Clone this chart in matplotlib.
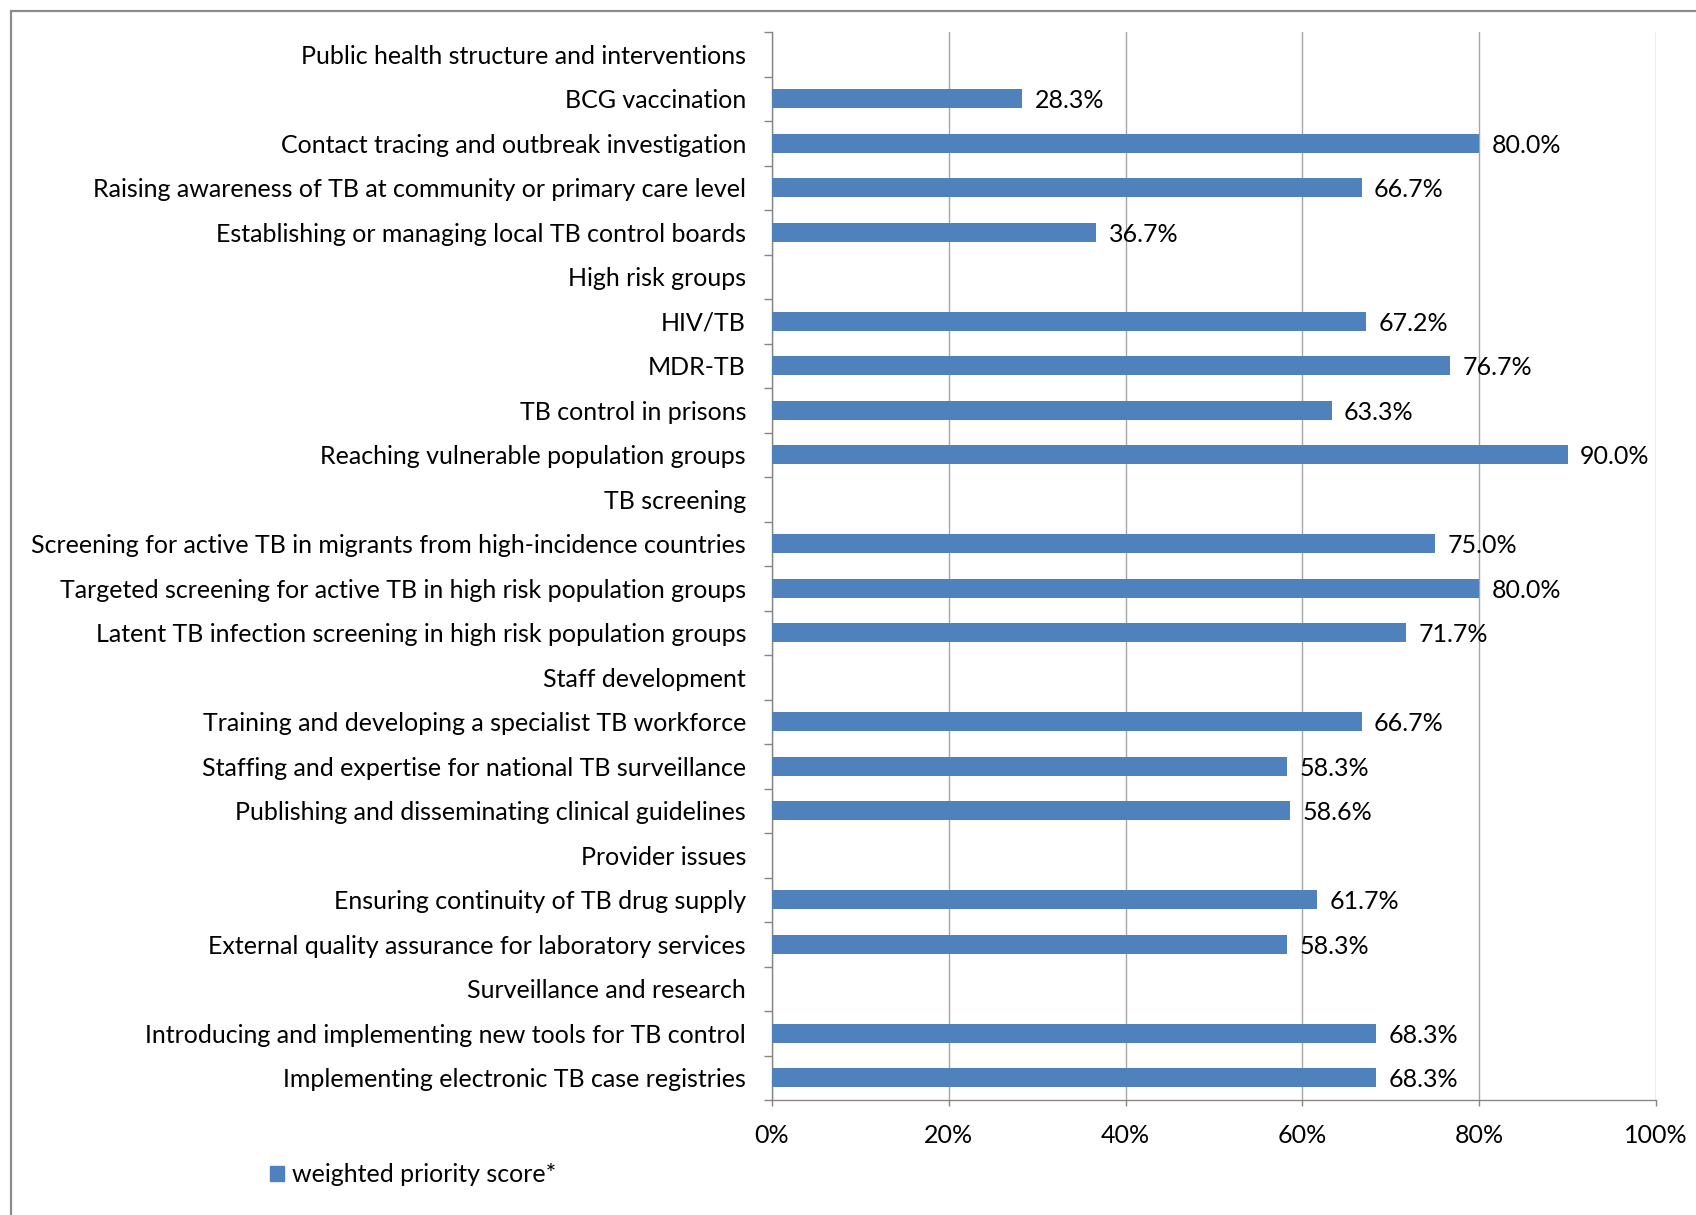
import matplotlib
matplotlib.use("Agg")
import matplotlib.pyplot as plt
from matplotlib.patches import Rectangle

categories = [
    "Public health structure and interventions",
    "BCG vaccination",
    "Contact tracing and outbreak investigation",
    "Raising awareness of TB at community or primary care level",
    "Establishing or managing local TB control boards",
    "High risk groups",
    "HIV/TB",
    "MDR-TB",
    "TB control in prisons",
    "Reaching vulnerable population groups",
    "TB screening",
    "Screening for active TB in migrants from high-incidence countries",
    "Targeted screening for active TB in high risk population groups",
    "Latent TB infection screening in high risk population groups",
    "Staff development",
    "Training and developing a specialist TB workforce",
    "Staffing and expertise for national TB surveillance",
    "Publishing and disseminating clinical guidelines",
    "Provider issues",
    "Ensuring continuity of TB drug supply",
    "External quality assurance for laboratory services",
    "Surveillance and research",
    "Introducing and implementing new tools for TB control",
    "Implementing electronic TB case registries",
]
# None = section header (no bar)
scores = [None, 28.3, 80.0, 66.7, 36.7,
          None, 67.2, 76.7, 63.3, 90.0,
          None, 75.0, 80.0, 71.7,
          None, 66.7, 58.3, 58.6,
          None, 61.7, 58.3,
          None, 68.3, 68.3]
x_ticks = [0, 20, 40, 60, 80, 100]
x_tick_labels = ["0%", "20%", "40%", "60%", "80%", "100%"]
legend_label = "weighted priority score*"

BAR = "#4F81BD"
GRID = "#A6A6A6"
FONT = "Lato"
FS = 18

W, H = 1696, 1215
fig = plt.figure(figsize=(W / 100, H / 100), dpi=100)
fig.patch.set_facecolor("white")

left, right, top, bottom = 772, 1656, 32, 1100
ax = fig.add_axes([left / W, 1 - bottom / H, (right - left) / W, (bottom - top) / H])

n = len(categories)
ypos = list(range(n))
for y, v in zip(ypos, scores):
    if v is None:
        continue
    ax.barh(y, v, height=0.42, color=BAR, zorder=3)
    ax.text(v + 1.4, y, f"{v:.1f}%", va="center_baseline", ha="left",
            fontsize=FS, family=FONT, color="black", zorder=4)

ax.set_ylim(n - 0.5, -0.5)
ax.set_xlim(0, 100)

ax.set_yticks(ypos)
ax.set_yticklabels(categories, fontsize=FS, family=FONT)
ax.set_yticks([i - 0.5 for i in range(n + 1)], minor=True)
ax.tick_params(axis="y", which="major", length=0, pad=26 * 0.72)
ax.tick_params(axis="y", which="minor", length=6, width=1, color="#868686", direction="out")

ax.set_xticks(x_ticks)
ax.set_xticklabels(x_tick_labels, fontsize=FS, family=FONT)
ax.tick_params(axis="x", length=4, width=1, color="#868686", pad=13, direction="out")

ax.grid(axis="x", color=GRID, linewidth=1, zorder=0)
ax.set_axisbelow(True)
for s in ["top", "right"]:
    ax.spines[s].set_visible(False)
for s in ["left", "bottom"]:
    ax.spines[s].set_color("#868686")
    ax.spines[s].set_linewidth(1)

# legend
fig.patches.append(Rectangle((270 / W, 1 - 1181 / H), 14 / W, 15 / H,
                             transform=fig.transFigure, color=BAR))
fig.text(292 / W, 1 - 1174 / H, legend_label, fontsize=FS, family=FONT,
         va="center", ha="left")

# outer border
fig.patches.append(Rectangle((11 / W, -0.01), 1.02, 1 - 11 / H + 0.01,
                             transform=fig.transFigure, fill=False,
                             edgecolor="#8C8C8C", linewidth=1.6))

fig.savefig("out.png", dpi=100, facecolor="white")
